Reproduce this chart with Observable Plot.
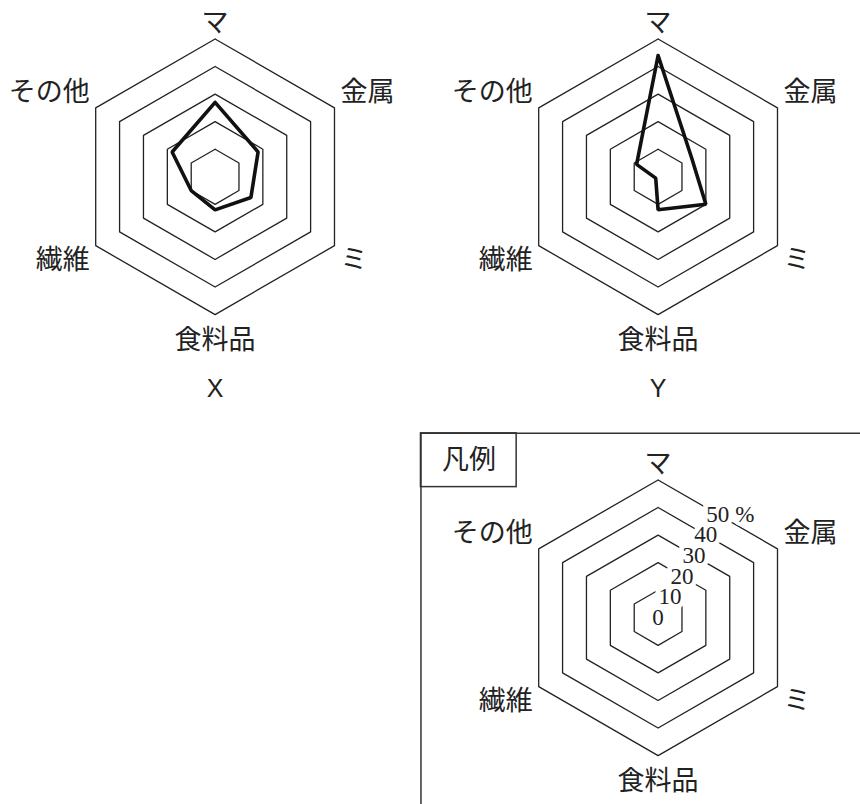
<!DOCTYPE html>
<html>
<head>
<meta charset="utf-8">
<script src="https://cdn.jsdelivr.net/npm/d3@7"></script>
<script src="https://cdn.jsdelivr.net/npm/@observablehq/plot@0.6"></script>
<style>
  html, body { margin: 0; padding: 0; background: #fff; overflow: hidden; }
</style>
</head>
<body>
<div id="chart"></div>
<script>
// ---- data ----
const categories = ["マ", "金属", "ミ", "食料品", "繊維", "その他"];
const valuesX = [27, 18, 15, 12, 10, 18];
const valuesY = [44, 14, 20, 12, 1, 9];
const ringValues = [10, 20, 30, 40, 50];
const tickValues = [0, 10, 20, 30, 40, 50];
const tickLabels = ["0", "10", "20", "30", "40", "50"];
const unitLabel = "%";
const panelNames = ["X", "Y"];
const legendTitle = "凡例";

// ---- layout (px) ----
const W = 860, H = 804;
const unit = 2.76;          // px per percent
const colStep = 443.6, rowStep = 441.5;
const cx = 213.8, cy = 176.5; // chart centre inside a facet cell
const fxPad = 2 - W / colStep;
const fyPad = 2 - H / rowStep;
const cellW = colStep * (1 - fxPad);
const cellH = rowStep * (1 - fyPad);
// label placement in scale units
const L = {sideX: 45.5, sideY: 30.5, top: 55.6, bottom: 59.2, title: -77.1};
const legendBox = {x1: -86.0, x2: -51.3, y1: 47.4, y2: 66.9, tx: -68.6, ty: 57.2, far: 95};

const rad = Math.PI / 180;
function pt(v, i) {
  const a = i * 60 * rad;
  return [v * Math.sin(a), v * Math.cos(a)];
}

const panels = [
  {name: panelNames[0], fx: 0, fy: 0, values: valuesX},
  {name: panelNames[1], fx: 1, fy: 0, values: valuesY},
  {name: legendTitle, fx: 1, fy: 1, values: null}
];

const ringData = panels.flatMap(p => ringValues.flatMap(r =>
  d3.range(7).map(k => {
    const [x, y] = pt(r, k % 6);
    return {fx: p.fx, fy: p.fy, key: `${p.fx}-${p.fy}-${r}`, x, y};
  })));

const seriesData = panels.filter(p => p.values).flatMap(p =>
  d3.range(7).map(k => {
    const [x, y] = pt(p.values[k % 6], k % 6);
    return {fx: p.fx, fy: p.fy, key: p.name, x, y};
  }));

const labelData = panels.flatMap(p => categories.map((c, i) => {
  const a = i * 60 * rad, s = Math.sin(a), co = Math.cos(a);
  const side = Math.abs(s) > 0.1;
  return {
    fx: p.fx, fy: p.fy, text: c,
    x: side ? Math.sign(s) * L.sideX : 0,
    y: side ? Math.sign(co) * L.sideY : (co > 0 ? L.top : -L.bottom),
    anchor: side ? (s > 0 ? "start" : "end") : "middle"
  };
}));

const titleData = panels.filter(p => p.values).map(p => ({fx: p.fx, fy: p.fy, x: 0, y: L.title, text: p.name}));

const tickData = tickValues.map((v, i) => {
  const [x1, y1] = pt(v, 0), [x2, y2] = pt(v, 1);
  return {fx: 1, fy: 1, x: (x1 + x2) / 2, y: (y1 + y2) / 2, text: tickLabels[i]};
});
const unitData = [{...tickData[tickData.length - 1], text: unitLabel}];

const lg = legendBox;
const legendRect = [{fx: 1, fy: 1, x1: lg.x1, x2: lg.x2, y1: lg.y1, y2: lg.y2}];
const legendTop = [{fx: 1, fy: 1, y: lg.y2, x1: lg.x1, x2: lg.far}];
const legendLeft = [{fx: 1, fy: 1, x: lg.x1, y1: lg.y2, y2: -lg.far}];
const legendText = [{fx: 1, fy: 1, x: lg.tx, y: lg.ty, text: legendTitle}];

const cjk = "'Noto Sans CJK JP', 'Noto Sans', sans-serif";
const ink = "#222";
const F = {fx: "fx", fy: "fy"};

const labelMark = anchor => Plot.text(labelData.filter(d => d.anchor === anchor), {
  ...F, x: "x", y: "y", text: "text", textAnchor: anchor,
  fontFamily: cjk, fontSize: 27, fill: ink
});

const chart = Plot.plot({
  width: W, height: H,
  margin: 0,
  style: {background: "#fff", overflow: "visible"},
  x: {domain: [-cx / unit, (cellW - cx) / unit], axis: null},
  y: {domain: [-(cellH - cy) / unit, cy / unit], axis: null},
  fx: {domain: [0, 1], paddingInner: fxPad, paddingOuter: 0, axis: null},
  fy: {domain: [0, 1], paddingInner: fyPad, paddingOuter: 0, axis: null},
  marks: [
    Plot.line(ringData, {...F, x: "x", y: "y", z: "key", stroke: ink, strokeWidth: 1.3}),
    Plot.line(seriesData, {...F, x: "x", y: "y", z: "key", stroke: "#111", strokeWidth: 3.6, strokeLinejoin: "miter"}),
    labelMark("start"), labelMark("end"), labelMark("middle"),
    Plot.text(titleData, {...F, x: "x", y: "y", text: "text", fontFamily: "'Liberation Sans', Arial, sans-serif", fontSize: 25, fill: ink}),
    Plot.text(tickData, {...F, x: "x", y: "y", text: "text", fontFamily: "'Liberation Serif', serif", fontSize: 23, fill: ink, stroke: "#fff", strokeWidth: 10}),
    Plot.text(unitData, {...F, x: "x", y: "y", text: "text", dx: 27, fontFamily: "'Liberation Serif', serif", fontSize: 23, fill: ink, stroke: "#fff", strokeWidth: 7}),
    Plot.rect(legendRect, {...F, x1: "x1", x2: "x2", y1: "y1", y2: "y2", fill: "none", stroke: "#333", strokeWidth: 1.5}),
    Plot.ruleY(legendTop, {...F, y: "y", x1: "x1", x2: "x2", stroke: "#333", strokeWidth: 1.5}),
    Plot.ruleX(legendLeft, {...F, x: "x", y1: "y1", y2: "y2", stroke: "#333", strokeWidth: 1.5}),
    Plot.text(legendText, {...F, x: "x", y: "y", text: "text", fontFamily: cjk, fontSize: 27, fill: ink})
  ]
});

document.getElementById("chart").appendChild(chart);
</script>
</body>
</html>
